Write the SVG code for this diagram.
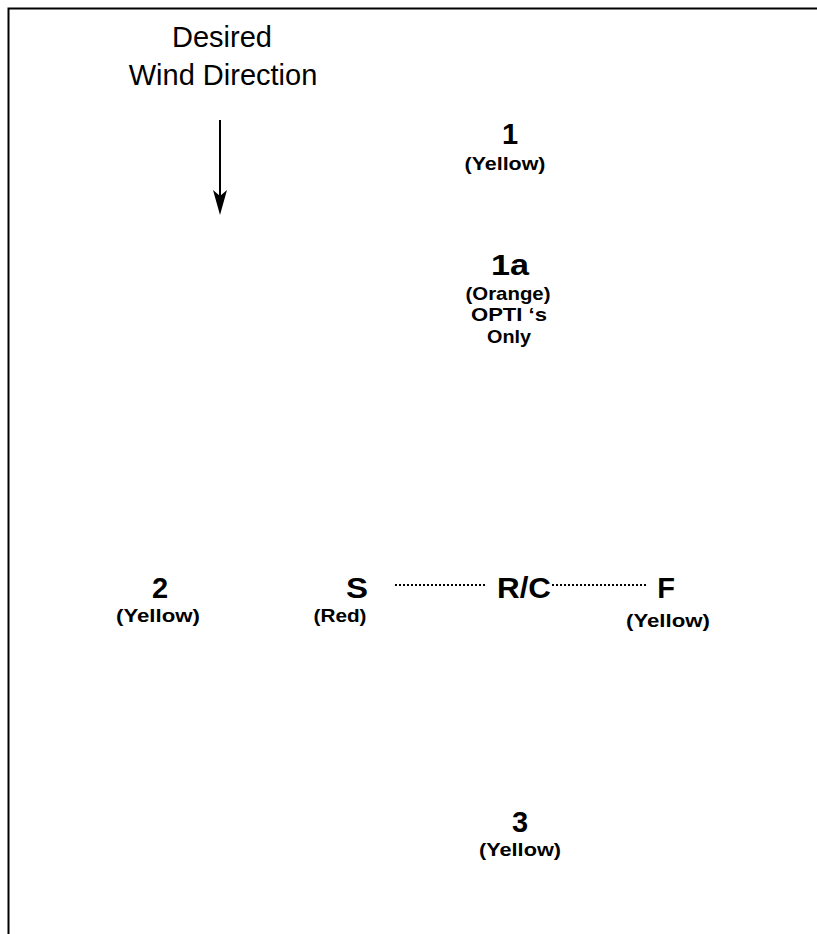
<svg xmlns="http://www.w3.org/2000/svg" width="817" height="934" viewBox="0 0 817 934">
<style>
.big{font-family:"Liberation Sans",Arial,sans-serif;font-size:29px;font-weight:bold;fill:#000;text-anchor:middle}
.sm{font-family:"Liberation Sans",Arial,sans-serif;font-size:19px;font-weight:bold;fill:#000;text-anchor:middle}
.title{font-family:"Liberation Sans",Arial,sans-serif;font-size:29px;fill:#000;text-anchor:middle}
.dot{stroke:#000;stroke-width:2;stroke-dasharray:2 2;fill:none}
</style>
<rect width="817" height="934" fill="#fff"/>
<path d="M8.5,934 V8.5 H817" fill="none" stroke="#000" stroke-width="2"/>
<g id="title">
<text class="title" x="222" y="47">Desired</text>
<text class="title" x="223" y="85">Wind Direction</text>
</g>
<g id="wind-arrow">
<line x1="220" y1="120" x2="220" y2="200" stroke="#000" stroke-width="2"/>
<path d="M220,215 L213,190 L220,196 L227,190 Z" fill="#000"/>
</g>
<g id="mark1">
<text class="big" x="510" y="144">1</text>
<text class="sm" x="505" y="170" textLength="81" lengthAdjust="spacingAndGlyphs">(Yellow)</text>
</g>
<g id="mark1a">
<text class="big" x="510" y="275" textLength="38" lengthAdjust="spacingAndGlyphs">1a</text>
<text class="sm" x="508" y="300" textLength="85" lengthAdjust="spacingAndGlyphs">(Orange)</text>
<text class="sm" x="509" y="321" textLength="76" lengthAdjust="spacingAndGlyphs">OPTI ‘s</text>
<text class="sm" x="509" y="343" textLength="44" lengthAdjust="spacingAndGlyphs">Only</text>
</g>
<g id="mark2">
<text class="big" x="160" y="598">2</text>
<text class="sm" x="158" y="622" textLength="84" lengthAdjust="spacingAndGlyphs">(Yellow)</text>
</g>
<g id="markS">
<text class="big" x="357" y="598" textLength="22" lengthAdjust="spacingAndGlyphs">S</text>
<text class="sm" x="340" y="622" textLength="53" lengthAdjust="spacingAndGlyphs">(Red)</text>
</g>
<g id="markRC">
<text class="big" x="524" y="598" textLength="54" lengthAdjust="spacingAndGlyphs">R/C</text>
</g>
<g id="markF">
<text class="big" x="666" y="598">F</text>
<text class="sm" x="668" y="627" textLength="84" lengthAdjust="spacingAndGlyphs">(Yellow)</text>
</g>
<g id="mark3">
<text class="big" x="520" y="832">3</text>
<text class="sm" x="520" y="856" textLength="82" lengthAdjust="spacingAndGlyphs">(Yellow)</text>
</g>
<g id="connectors">
<line class="dot" x1="395" y1="585" x2="485" y2="585"/>
<line class="dot" x1="552" y1="585" x2="648" y2="585"/>
</g>
</svg>
